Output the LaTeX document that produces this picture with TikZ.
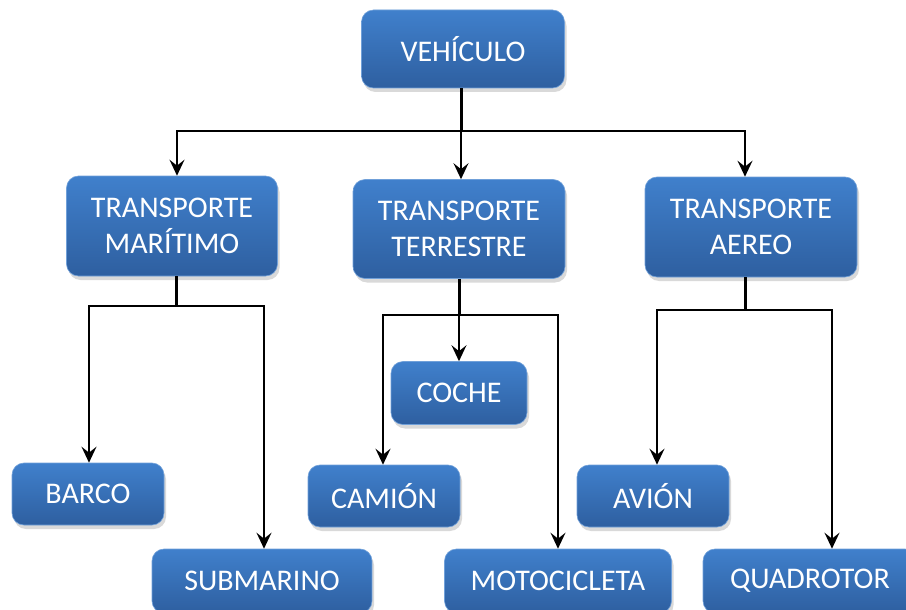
\documentclass[tikz,border=0pt]{standalone}
\usepackage{fontspec}
\setmainfont{Carlito}
\usetikzlibrary{positioning,shadows,arrows.meta}

\definecolor{azularriba}{RGB}{64,128,204}
\definecolor{azulabajo}{RGB}{46,95,160}

\tikzset{
  caja/.style={rounded corners=12pt, top color=azularriba, bottom color=azulabajo,
    draw=azularriba!75!white, line width=0.6pt, text=white, align=center,
    font=\fontsize{30}{36}\selectfont, inner sep=0pt,
    drop shadow={shadow xshift=2pt, shadow yshift=-4pt, opacity=0.3}},
  flecha/.style={-{Stealth[length=16pt,width=15pt,inset=6pt]}, line width=1.6pt},
  tronco/.style={line width=3pt},
}

\begin{document}
\begin{tikzpicture}[x=1pt,y=1pt]
  \useasboundingbox (0,0) rectangle (906,-610);

  % Nivel 0
  \node[caja, minimum width=203pt, minimum height=78pt] (veh) at (463,-49) {VEHÍCULO};

  % Nivel 1
  \node[caja, minimum width=211pt, minimum height=100pt] (mar) at (172,-226) {TRANSPORTE\\MARÍTIMO};
  \node[caja, minimum width=212pt, minimum height=99pt] (ter) at (459,-229) {TRANSPORTE\\TERRESTRE};
  \node[caja, minimum width=212pt, minimum height=100pt] (aer) at (751,-227) {TRANSPORTE\\AEREO};

  % Nivel 2
  \node[caja, minimum width=136pt, minimum height=63pt] (coche) at (459,-393) {COCHE};
  \node[caja, minimum width=152pt, minimum height=62pt] (barco) at (88,-494) {BARCO};
  \node[caja, minimum width=152pt, minimum height=62pt] (camion) at (384,-496) {CAMIÓN};
  \node[caja, minimum width=152pt, minimum height=62pt] (avion) at (653,-496) {AVIÓN};
  \node[caja, minimum width=220pt, minimum height=64pt] (sub) at (262,-581) {SUBMARINO};
  \node[caja, minimum width=227pt, minimum height=64pt] (moto) at (558,-581) {MOTOCICLETA};
  \node[caja, minimum width=214pt, minimum height=64pt] (quad) at (810,-581) {QUADROTOR};

  % Uniones
  \coordinate (j0) at (461,-131);
  \coordinate (j1) at (176,-306);
  \coordinate (j2) at (459,-315);
  \coordinate (j3) at (745,-310);

  % Vehiculo -> transportes
  \draw[tronco] ([xshift=-2pt]veh.south) -- (j0);
  \draw[flecha] (j0) -| ([xshift=5pt]mar.north);
  \draw[flecha] (j0) -- ([xshift=2pt]ter.north);
  \draw[flecha] (j0) -| ([xshift=-6pt]aer.north);

  % Maritimo
  \draw[tronco] ([xshift=4pt]mar.south) -- (j1);
  \draw[flecha] (j1) -| ([xshift=1pt]barco.north);
  \draw[flecha] (j1) -| ([xshift=2pt]sub.north);

  % Terrestre
  \draw[tronco] (ter.south) -- (j2);
  \draw[flecha] (j2) -- (coche.north);
  \draw[flecha] (j2) -| ([xshift=-1pt]camion.north);
  \draw[flecha] (j2) -| (moto.north);

  % Aereo
  \draw[tronco] ([xshift=-6pt]aer.south) -- (j3);
  \draw[flecha] (j3) -| ([xshift=4pt]avion.north);
  \draw[flecha] (j3) -| ([xshift=22pt]quad.north);
\end{tikzpicture}
\end{document}
